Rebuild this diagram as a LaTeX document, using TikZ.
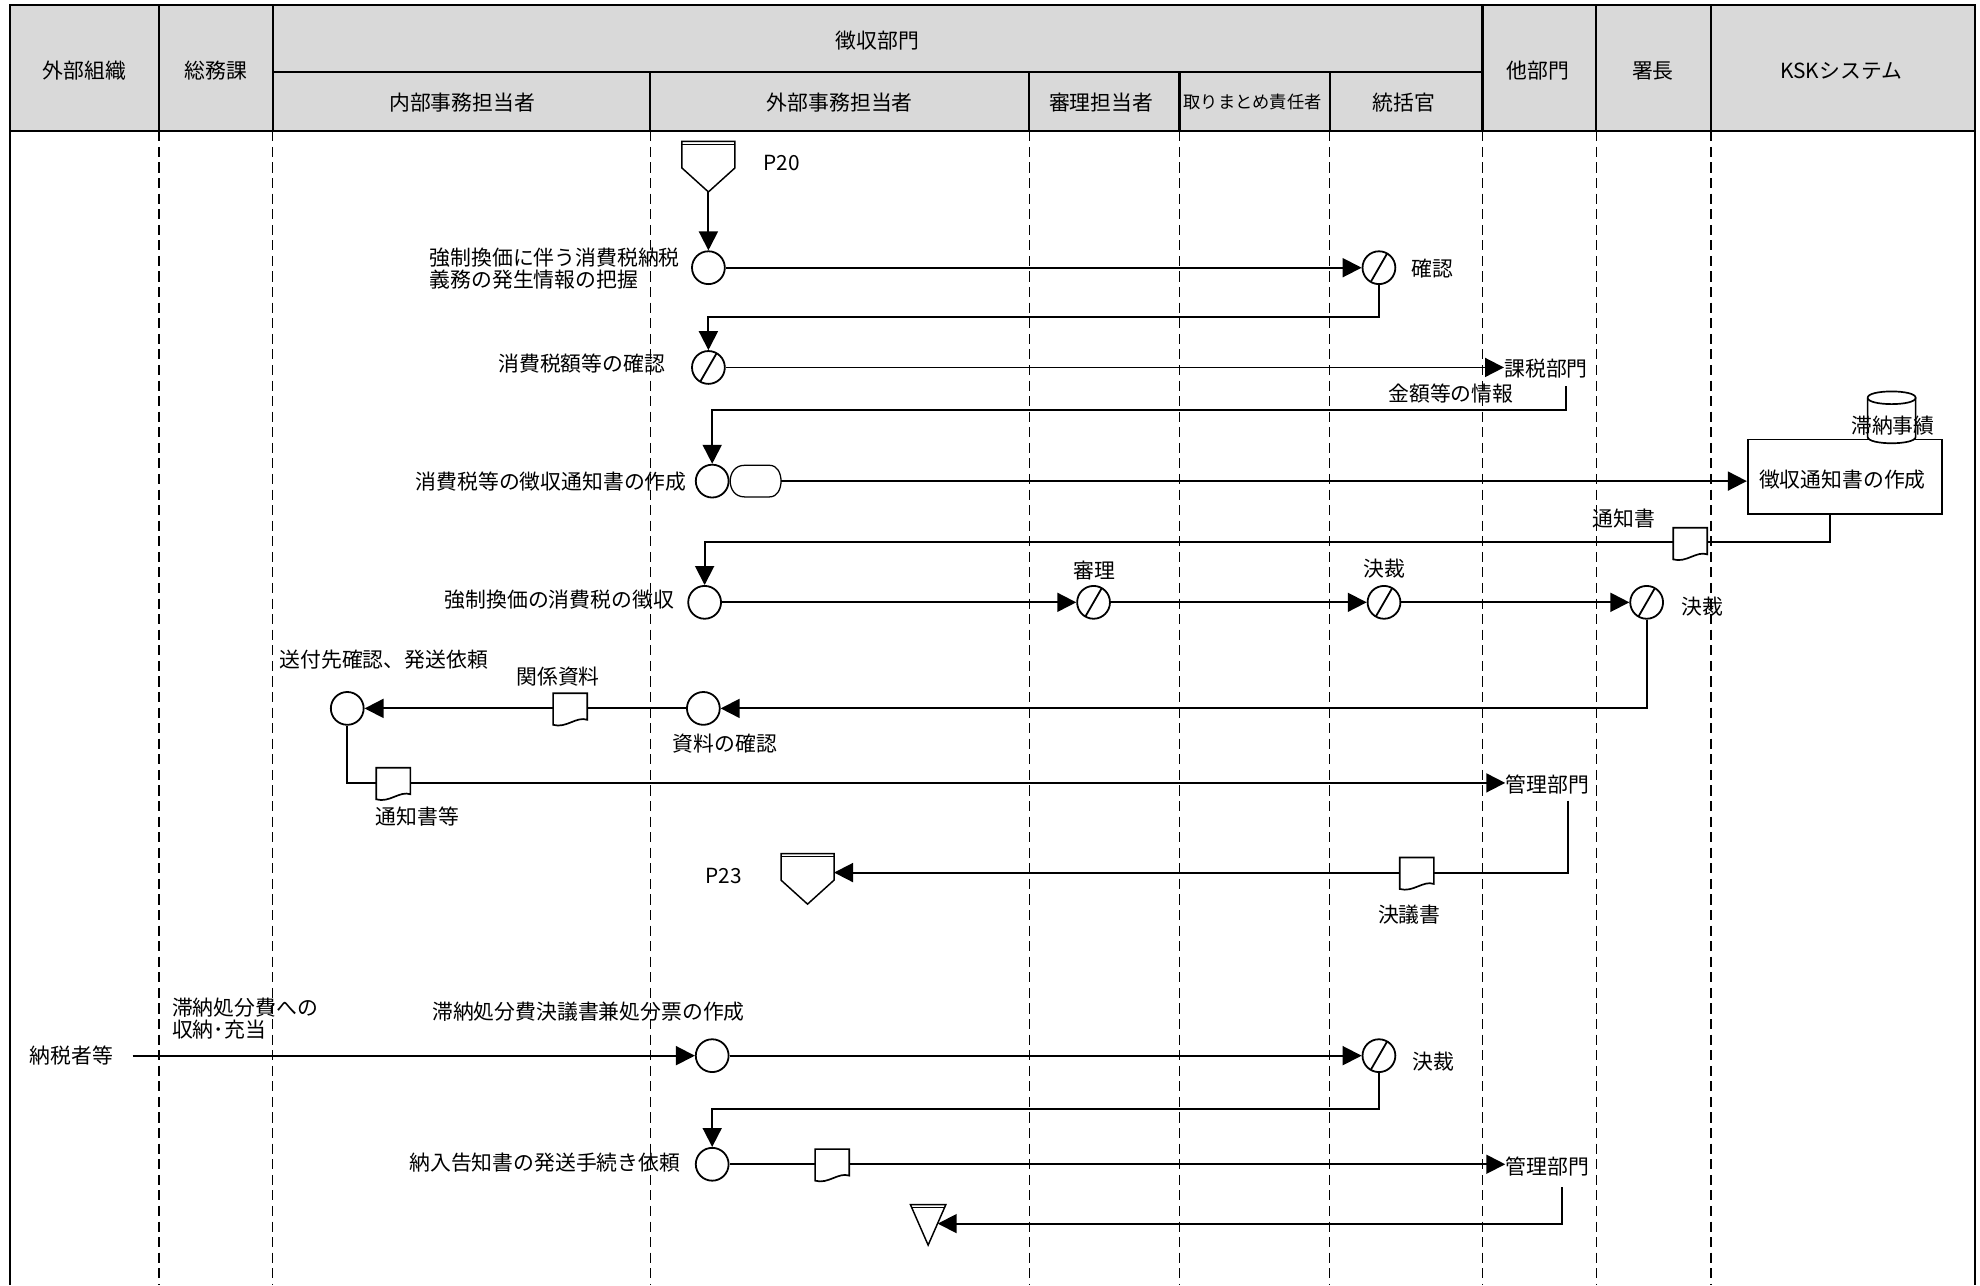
\documentclass[tikz,border=0pt]{standalone}
\usepackage{fontspec}
\setmainfont{Noto Sans CJK JP}
\usetikzlibrary{arrows.meta,calc}
\definecolor{hdrgray}{HTML}{D9D9D9}
\tikzset{
  offp/.pic={
    \draw[line width=0.7pt,fill=white] (-21,0) -- (21,0) -- (21,21) -- (0,40) -- (-21,21) -- cycle;
    \draw[line width=0.4pt] (-21,2.5) -- (21,2.5);
    \coordinate (-tip) at (0,40);
    \coordinate (-east) at (21,15);
  },
  trisym/.pic={
    \draw[line width=0.7pt,fill=white] (-14,0) -- (14,0) -- (0,32) -- cycle;
    \draw[line width=0.4pt] (-13,2.5) -- (13,2.5);
    \coordinate (-east) at (7.6,15);
  },
  docu/.pic={
    \draw[line width=0.8pt,fill=white] (-13.5,-12) -- (13.5,-12) -- (13.5,9)
      .. controls (5,6) and (-3,16) .. (-13.5,13) -- cycle;
  },
  dispsym/.pic={
    \draw[line width=0.6pt,fill=white] (-9,-12.5) -- (11,-12.5)
      .. controls (23,-12.5) and (23,12.5) .. (11,12.5) -- (-9,12.5)
      .. controls (-24,12.5) and (-24,-12.5) .. (-9,-12.5) -- cycle;
    \coordinate (-east) at (20,0);
  },
  cylsym/.pic={
    \draw[line width=0.8pt,fill=white] (-19,5) -- (-19,36)
      .. controls (-19,42.7) and (19,42.7) .. (19,36) -- (19,5);
    \draw[line width=0.8pt,fill=white] (-19,5) .. controls (-19,-1.7) and (19,-1.7) .. (19,5)
      .. controls (19,11.7) and (-19,11.7) .. (-19,5);
  }
}
\begin{document}
\begin{tikzpicture}[x=0.6pt,y=-0.6pt,
  every node/.style={font=\fontsize{9.9}{10.6}\selectfont, inner sep=0pt},
  hdr/.style={draw, line width=1.1pt, fill=hdrgray},
  lane/.style={line width=0.6pt, dash pattern=on 4.8pt off 2.6pt},
  conn/.style={line width=0.9pt},
  arr/.style={conn, -{Triangle[length=9pt,width=9pt]}},
  proc/.style={circle, draw, line width=0.85pt, fill=white, minimum size=15.6pt, inner sep=0pt},
  chk/.style={proc, path picture={\draw[line width=0.85pt] ([xshift=-4.5pt]path picture bounding box.south) -- ([xshift=4.5pt]path picture bounding box.north);}},
  smallhdr/.style={font=\fontsize{8.2}{9}\selectfont}
]
\useasboundingbox (0,0) rectangle (1568,1018);

% header
\draw[hdr] (8,4) rectangle (126,104);
\draw[hdr] (126,4) rectangle (216,104);
\draw[hdr] (216,4) rectangle (1174,57);
\draw[hdr] (216,57) rectangle (515,104);
\draw[hdr] (515,57) rectangle (815,104);
\draw[hdr] (815,57) rectangle (934,104);
\draw[hdr] (934,57) rectangle (1053,104);
\draw[hdr] (1053,57) rectangle (1174,104);
\draw[hdr] (1174,4) rectangle (1264,104);
\draw[hdr] (1264,4) rectangle (1355,104);
\draw[hdr] (1355,4) rectangle (1564,104);
\draw[line width=1.1pt] (8,104) -- (8,1018);
\draw[line width=1.1pt] (1564,104) -- (1564,1018);

\node (h1) at (67,56) {外部組織};
\node (h2) at (171,56) {総務課};
\node (h3) at (695,32) {徴収部門};
\node (h31) at (366,81) {内部事務担当者};
\node (h32) at (665,81) {外部事務担当者};
\node (h33) at (872,81) {審理担当者};
\node[smallhdr] (h34) at (992,81) {取りまとめ責任者};
\node (h35) at (1112,81) {統括官};
\node (h4) at (1218,56) {他部門};
\node (h5) at (1309,56) {署長};
\node (h6) at (1458,56) {KSKシステム};

% lanes
\foreach \x in {126,216,515,815,934,1053,1174,1264,1355}
  \draw[lane] (\x,104) -- (\x,1018);

% process nodes
\node[proc] (c1) at (561,212) {};
\node[chk]  (k1) at (1092,212) {};
\node[chk]  (c2) at (561,291) {};
\node[proc] (c3) at (564,381) {};
\node[proc] (c4) at (558,477) {};
\node[chk]  (k2) at (866,477) {};
\node[chk]  (k3) at (1096,477) {};
\node[chk]  (k4) at (1304,477) {};
\node[proc] (c5) at (557,561) {};
\node[proc] (c6) at (275,561) {};
\node[proc] (c7) at (564,836) {};
\node[chk]  (k5) at (1092,836) {};
\node[proc] (c8) at (564,922) {};

\node[draw, line width=0.8pt, fill=white, minimum width=92.4pt, minimum height=35.4pt] (box) at (1461,377.5) {};
\node (boxt) at (1459,380) {徴収通知書の作成};
\pic at (1498,310) {cylsym};
\node (dbt) at (1499,337) {滞納事績};

\pic (p20) at (561,112) {offp};
\node (p20t) at (619,129) {P20};
\pic (p23) at (639.5,676) {offp};
\node (p23t) at (573,694) {P23};
\pic (tri) at (735,954) {trisym};
\pic (disp) at (598.5,381) {dispsym};

% destination labels
\node[anchor=west] (kazei) at (1191,292) {課税部門};
\node[anchor=west] (kanri1) at (1192,621) {管理部門};
\node[anchor=west] (kanri2) at (1192,924) {管理部門};
\node (nozei) at (56.6,836) {納税者等};

% turning points
\coordinate (r1) at (1093,251);
\coordinate (r2a) at (1240,306);
\coordinate (r2) at (1240,324.5);
\coordinate (r3) at (1449,429.5);
\coordinate (r5) at (1242,634);
\coordinate (r6) at (1093,878);
\coordinate (r7) at (1237,940);

% connectors
\draw[arr] (p20-tip) -- (c1.north);
\draw[arr] (c1) -- (k1);
\draw[arr] (k1.south) |- (c2.north |- r1) -- (c2.north);
\draw[arr] (c2.east) -- (kazei.west |- c2.east);
\draw[arr] (r2a) |- (c3.north |- r2) -- (c3.north);
\draw[arr] (disp-east) -- (box.west |- disp-east);
\draw[arr] (box.south -| r3) |- (c4.north |- r3) -- (c4.north);
\draw[arr] (c4) -- (k2);
\draw[arr] (k2) -- (k3);
\draw[arr] (k3) -- (k4);
\draw[arr] (k4.south) |- (c5.east);
\draw[arr] (c5) -- (c6);
\draw[arr] (c6.south) |- (kanri1.west |- 0,620);
\draw[arr] (r5) |- (p23-east);
\draw[arr] ([xshift=9pt]nozei.east) -- (c7);
\draw[arr] (c7) -- (k5);
\draw[arr] (k5.south) |- (c8.north |- r6) -- (c8.north);
\draw[arr] (c8) -- (kanri2.west |- c8.east);
\draw[arr] (r7) |- (tri-east);

% documents on connectors
\pic at (1338.5,430) {docu};
\pic at (451.5,561) {docu};
\pic at (311.5,620) {docu};
\pic at (1122,691) {docu};
\pic at (659,922) {docu};

% labels
\node[anchor=west, align=left] (l1) at (340,212.5) {強制換価に伴う消費税納税\\義務の発生情報の把握};
\node (l2) at (1134.5,212.5) {確認};
\node[anchor=east] (l3) at (527,288) {消費税額等の確認};
\node (l4) at (1149,312) {金額等の情報};
\node[anchor=east] (l5) at (544,381) {消費税等の徴収通知書の作成};
\node (l6) at (1286,411) {通知書};
\node[anchor=east] (l7) at (534,475) {強制換価の消費税の徴収};
\node (l8) at (867,452) {審理};
\node (l9) at (1096,450) {決裁};
\node (l10) at (1348,480) {決裁};
\node[anchor=west] (l11) at (221,522) {送付先確認、発送依頼};
\node (l12) at (442,536) {関係資料};
\node (l13) at (574,589) {資料の確認};
\node (l14) at (330.5,647) {通知書等};
\node (l15) at (1116,724) {決議書};
\node[anchor=west, align=left] (l16) at (136,806.5) {滞納処分費への\\収納･充当};
\node (l17) at (466,801) {滞納処分費決議書兼処分票の作成};
\node (l18) at (1135,841) {決裁};
\node[anchor=east] (l19) at (539,921) {納入告知書の発送手続き依頼};
\end{tikzpicture}
\end{document}
